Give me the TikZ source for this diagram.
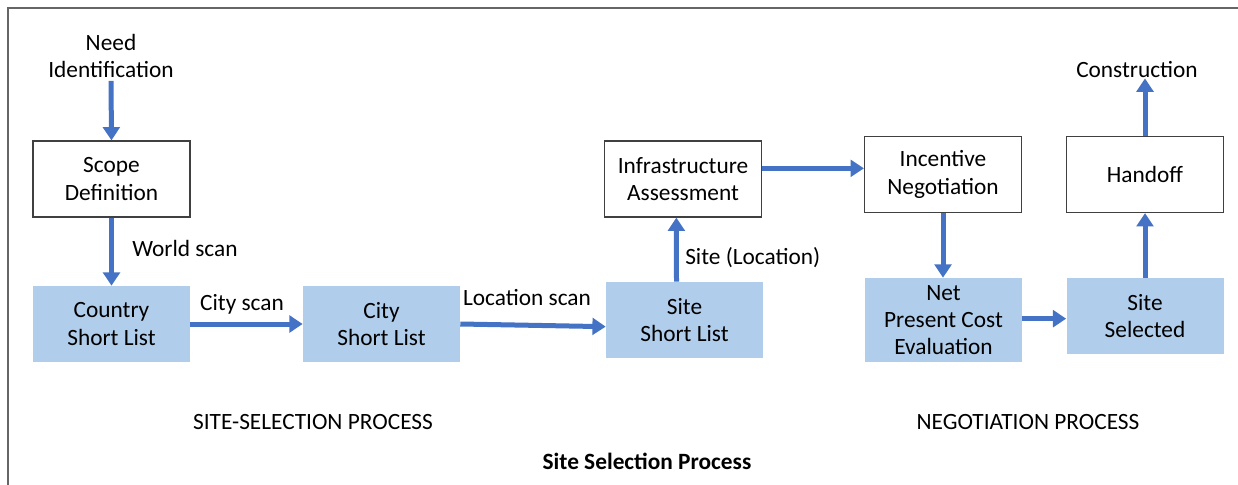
\documentclass[tikz,border=0pt]{standalone}
\usepackage{fontspec}
\setmainfont{Carlito}
\usetikzlibrary{arrows.meta}

\definecolor{flowblue}{RGB}{68,114,196}
\definecolor{listblue}{RGB}{176,205,235}

\tikzset{
	every box/.style={minimum width=117.75pt, minimum height=57pt, align=center, inner sep=0pt},
	plain box/.style={every box, draw=black!75, line width=0.9pt, fill=white},
	list box/.style={every box, fill=listblue},
	flow/.style={draw=flowblue, line width=3.75pt, -{Triangle[width=12.5pt, length=10pt]}},
	lbl/.style={inner sep=0pt}
}

\begin{document}
\begin{tikzpicture}[x=0.75pt, y=-0.75pt, font=\fontsize{17.5}{20.5}\selectfont]
		\useasboundingbox (0,0) rectangle (1238,485);
		\draw [black!60, line width=1.2pt] (8,485) -- (8,8) -- (1238,8);

		% white boxes
		\node [plain box] (scope) at (111.5,179) {Scope\\Definition};
		\node [plain box] (infra) at (683,179) {Infrastructure\\Assessment};
		\node [plain box] (incentive) at (943,174.5) {Incentive\\Negotiation};
		\node [plain box] (handoff) at (1145,174.5) {Handoff};

		% short lists
		\node [list box] (country) at (111.5,324) {Country\\Short List};
		\node [list box] (city) at (381.5,324) {City\\Short List};
		\node [list box] (site) at (684.5,320) {Site\\Short List};
		\node [list box, minimum height=63pt] (npc) at (943.5,320) {Net\\Present Cost\\Evaluation};
		\node [list box] (selected) at (1145,316) {Site\\Selected};

		% free texts
		\node [lbl, align=center] (need) at (111,56) {Need\\Identification};
		\node [lbl] (construction) at (1137,70) {Construction};

		% flow
		\draw [flow] ([yshift=-2pt]need.south) -- (scope.north);
		\draw [flow] (scope.south) -- (country.north);
		\draw [flow] (country.east) -- (city.west);
		\draw [flow] (city.east) -- ([yshift=-5pt]site.west);
		\draw [flow] ([xshift=-6pt]site.north) -- ([xshift=-5pt]infra.south);
		\draw [flow] ([yshift=8pt]infra.east) -- ([yshift=8pt]infra.east -| incentive.west);
		\draw [flow] (incentive.south) -- (incentive.south |- npc.north);
		\draw [flow] ([yshift=1pt]npc.east) -- ([yshift=1pt]npc.east -| selected.west);
		\draw [flow] (selected.north) -- (handoff.south);
		\draw [flow] (handoff.north) -- (handoff.north |- construction.south);

		% connector labels
		\node [lbl, anchor=west] (world) at (132,248) {World scan};
		\node [lbl] (cityscan) at (242,304) {City scan};
		\node [lbl] (locscan) at (527,298) {Location scan};
		\node [lbl, anchor=west] (siteloc) at (685,258) {Site (Location)};

		% section titles
		\node [lbl] (sitesel) at (313,422) {SITE-SELECTION PROCESS};
		\node [lbl] (nego) at (1028,422) {NEGOTIATION PROCESS};
		\node [lbl, font=\fontsize{17.5}{20.5}\selectfont\bfseries] (title) at (647,461) {Site Selection Process};
	\end{tikzpicture}
\end{document}
